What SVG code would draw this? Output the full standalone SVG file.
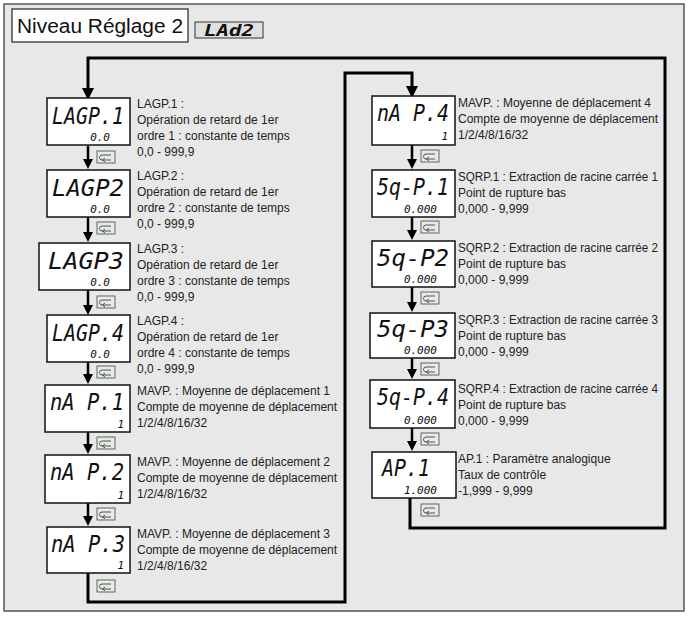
<svg xmlns="http://www.w3.org/2000/svg" width="689" height="620" viewBox="0 0 689 620">
<style>
.t{font-family:"Liberation Sans",Arial,sans-serif;font-size:12px;fill:#222}
.box{fill:#fff;stroke:#111;stroke-width:1.5}
.seg{font-family:"DejaVu Sans Mono",monospace;font-style:italic;fill:#111}
.big{font-size:23px}
.sm{font-size:11px;text-anchor:end}
.ln{fill:none;stroke:#000;stroke-width:3}
.ar{stroke:#000;stroke-width:2.5}
.key{fill:#e4ece4;stroke:#444;stroke-width:0.8}
.kp{fill:none;stroke:#444;stroke-width:0.9}
</style>
<defs>
<marker id="ah" markerWidth="4" markerHeight="4" refX="2" refY="2" orient="auto" markerUnits="strokeWidth"><path d="M0,0 L4,2 L0,4 z" fill="#000"/></marker>
<g id="k"><rect class="key" x="0" y="0" width="18" height="12"/><path class="kp" d="M14,4 H5 A2.5,2.5 0 0 0 5,9 H14 M8,7 L5.5,9 L8,11"/></g>
</defs>
<rect x="4" y="4" width="680" height="607" fill="#e8e8e8" stroke="#555" stroke-width="1.5"/>
<g id="title">
<rect x="12" y="9" width="176" height="33" fill="#fff" stroke="#222" stroke-width="1.2"/>
<text x="17" y="33" font-family="Liberation Sans,Arial,sans-serif" font-size="20" textLength="166" lengthAdjust="spacingAndGlyphs" fill="#111">Niveau Réglage 2</text>
<rect x="195" y="22" width="68" height="16" fill="#e0e0e0" stroke="#333" stroke-width="1"/>
<text x="204" y="36" class="seg" font-size="15" font-weight="bold" textLength="50" lengthAdjust="spacingAndGlyphs">LAd2</text>
</g>
<g id="connectors">
<path class="ln" d="M410,498 V528 H665 V58 H88 V94" marker-end="url(#ah)"/>
<path class="ln" d="M88,573 V602 H345 V73 H412 V92" marker-end="url(#ah)"/>
<path class="ar" d="M88,146 V164" marker-end="url(#ah)"/>
<path class="ar" d="M88,217 V237" marker-end="url(#ah)"/>
<path class="ar" d="M88,290 V310" marker-end="url(#ah)"/>
<path class="ar" d="M88,362 V379" marker-end="url(#ah)"/>
<path class="ar" d="M88,432 V449" marker-end="url(#ah)"/>
<path class="ar" d="M88,503 V521" marker-end="url(#ah)"/>
<path class="ar" d="M412,145 V164" marker-end="url(#ah)"/>
<path class="ar" d="M412,217 V235" marker-end="url(#ah)"/>
<path class="ar" d="M412,287 V307" marker-end="url(#ah)"/>
<path class="ar" d="M412,358 V374" marker-end="url(#ah)"/>
<path class="ar" d="M412,428 V446" marker-end="url(#ah)"/>
</g>
<g id="keys">
<use href="#k" x="97" y="151"/><use href="#k" x="97" y="222"/><use href="#k" x="97" y="296"/><use href="#k" x="97" y="366"/><use href="#k" x="97" y="437"/><use href="#k" x="97" y="508"/><use href="#k" x="97" y="580"/>
<use href="#k" x="421" y="150"/><use href="#k" x="421" y="221"/><use href="#k" x="421" y="292"/><use href="#k" x="421" y="363"/><use href="#k" x="421" y="433"/><use href="#k" x="421" y="504"/>
</g>
<g id="n1"><rect class="box" x="47" y="98" width="83" height="47"/><text class="seg big" x="52" y="124" textLength="72" lengthAdjust="spacingAndGlyphs">LAGP.1</text><text class="seg sm" x="110" y="141">0.0</text>
<text class="t" x="137" y="108">LAGP.1 :</text><text class="t" x="137" y="124">Opération de retard de 1er</text><text class="t" x="137" y="140">ordre 1 : constante de temps</text><text class="t" x="137" y="156">0,0 - 999,9</text></g>
<g id="n2"><rect class="box" x="47" y="170" width="83" height="47"/><text class="seg big" x="52" y="196" textLength="72" lengthAdjust="spacingAndGlyphs">LAGP2</text><text class="seg sm" x="110" y="213">0.0</text>
<text class="t" x="137" y="180">LAGP.2 :</text><text class="t" x="137" y="196">Opération de retard de 1er</text><text class="t" x="137" y="212">ordre 2 : constante de temps</text><text class="t" x="137" y="228">0,0 - 999,9</text></g>
<g id="n3"><rect class="box" x="39" y="243" width="91" height="47"/><text class="seg big" x="48" y="269" textLength="76" lengthAdjust="spacingAndGlyphs">LAGP3</text><text class="seg sm" x="110" y="286">0.0</text>
<text class="t" x="137" y="253">LAGP.3 :</text><text class="t" x="137" y="269">Opération de retard de 1er</text><text class="t" x="137" y="285">ordre 3 : constante de temps</text><text class="t" x="137" y="301">0,0 - 999,9</text></g>
<g id="n4"><rect class="box" x="47" y="315" width="83" height="47"/><text class="seg big" x="52" y="341" textLength="72" lengthAdjust="spacingAndGlyphs">LAGP.4</text><text class="seg sm" x="110" y="358">0.0</text>
<text class="t" x="137" y="325">LAGP.4 :</text><text class="t" x="137" y="341">Opération de retard de 1er</text><text class="t" x="137" y="357">ordre 4 : constante de temps</text><text class="t" x="137" y="373">0,0 - 999,9</text></g>
<g id="n5"><rect class="box" x="45" y="385" width="85" height="47"/><text class="seg big" x="50" y="410" textLength="74" lengthAdjust="spacingAndGlyphs">nA P.1</text><text class="seg sm" x="124" y="428">1</text>
<text class="t" x="137" y="395">MAVP. : Moyenne de déplacement 1</text><text class="t" x="137" y="411">Compte de moyenne de déplacement</text><text class="t" x="137" y="427">1/2/4/8/16/32</text></g>
<g id="n6"><rect class="box" x="45" y="455" width="85" height="48"/><text class="seg big" x="50" y="480" textLength="74" lengthAdjust="spacingAndGlyphs">nA P.2</text><text class="seg sm" x="124" y="499">1</text>
<text class="t" x="137" y="466">MAVP. : Moyenne de déplacement 2</text><text class="t" x="137" y="482">Compte de moyenne de déplacement</text><text class="t" x="137" y="498">1/2/4/8/16/32</text></g>
<g id="n7"><rect class="box" x="47" y="527" width="83" height="46"/><text class="seg big" x="51" y="552" textLength="74" lengthAdjust="spacingAndGlyphs">nA P.3</text><text class="seg sm" x="124" y="569">1</text>
<text class="t" x="137" y="538">MAVP. : Moyenne de déplacement 3</text><text class="t" x="137" y="554">Compte de moyenne de déplacement</text><text class="t" x="137" y="570">1/2/4/8/16/32</text></g>
<g id="n8"><rect class="box" x="372" y="96" width="83" height="49"/><text class="seg big" x="377" y="121" textLength="72" lengthAdjust="spacingAndGlyphs">nA P.4</text><text class="seg sm" x="448" y="140">1</text>
<text class="t" x="458" y="107">MAVP. : Moyenne de déplacement 4</text><text class="t" x="458" y="123">Compte de moyenne de déplacement</text><text class="t" x="458" y="139">1/2/4/8/16/32</text></g>
<g id="n9"><rect class="box" x="372" y="170" width="83" height="47"/><text class="seg big" x="377" y="195" textLength="72" lengthAdjust="spacingAndGlyphs">5q-P.1</text><text class="seg sm" x="437" y="213">0.000</text>
<text class="t" x="458" y="181" textLength="200" lengthAdjust="spacingAndGlyphs">SQRP.1 : Extraction de racine carrée 1</text><text class="t" x="458" y="197">Point de rupture bas</text><text class="t" x="458" y="213">0,000 - 9,999</text></g>
<g id="n10"><rect class="box" x="372" y="241" width="83" height="46"/><text class="seg big" x="377" y="266" textLength="72" lengthAdjust="spacingAndGlyphs">5q-P2</text><text class="seg sm" x="437" y="283">0.000</text>
<text class="t" x="458" y="252" textLength="200" lengthAdjust="spacingAndGlyphs">SQRP.2 : Extraction de racine carrée 2</text><text class="t" x="458" y="268">Point de rupture bas</text><text class="t" x="458" y="284">0,000 - 9,999</text></g>
<g id="n11"><rect class="box" x="370" y="313" width="85" height="45"/><text class="seg big" x="377" y="337" textLength="72" lengthAdjust="spacingAndGlyphs">5q-P3</text><text class="seg sm" x="437" y="354">0.000</text>
<text class="t" x="458" y="324" textLength="200" lengthAdjust="spacingAndGlyphs">SQRP.3 : Extraction de racine carrée 3</text><text class="t" x="458" y="340">Point de rupture bas</text><text class="t" x="458" y="356">0,000 - 9,999</text></g>
<g id="n12"><rect class="box" x="370" y="380" width="85" height="48"/><text class="seg big" x="377" y="405" textLength="72" lengthAdjust="spacingAndGlyphs">5q-P.4</text><text class="seg sm" x="437" y="424">0.000</text>
<text class="t" x="458" y="393" textLength="200" lengthAdjust="spacingAndGlyphs">SQRP.4 : Extraction de racine carrée 4</text><text class="t" x="458" y="409">Point de rupture bas</text><text class="t" x="458" y="425">0,000 - 9,999</text></g>
<g id="n13"><rect class="box" x="372" y="452" width="84" height="46"/><text class="seg big" x="382" y="476" textLength="48" lengthAdjust="spacingAndGlyphs">AP.1</text><text class="seg sm" x="437" y="494">1.000</text>
<text class="t" x="458" y="463">AP.1 : Paramètre analogique</text><text class="t" x="458" y="479">Taux de contrôle</text><text class="t" x="458" y="495"> -1,999 - 9,999</text></g>
</svg>
